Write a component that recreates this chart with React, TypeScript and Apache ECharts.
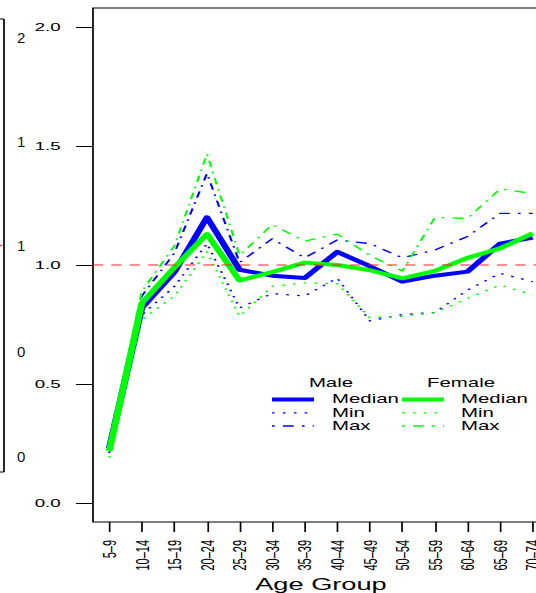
import React, { useEffect, useRef } from "react";
import * as echarts from "echarts";

// Age groups on the x axis
const ageGroups = [
  "5–9", "10–14", "15–19", "20–24", "25–29", "30–34", "35–39",
  "40–44", "45–49", "50–54", "55–59", "60–64", "65–69", "70–74",
];

// Ratio values per age group
const maleMedian = [0.23, 0.82, 0.97, 1.2, 0.98, 0.955, 0.945, 1.055, 0.995, 0.93, 0.955, 0.972, 1.09, 1.115];
const maleMin = [0.21, 0.79, 0.91, 1.09, 0.82, 0.88, 0.87, 0.945, 0.765, 0.792, 0.8, 0.895, 0.965, 0.93];
const maleMax = [0.25, 0.87, 1.05, 1.385, 1.01, 1.11, 1.03, 1.105, 1.09, 1.03, 1.063, 1.12, 1.217, 1.217];
const femaleMedian = [0.22, 0.84, 0.99, 1.13, 0.935, 0.97, 1.01, 1.0, 0.978, 0.944, 0.975, 1.03, 1.07, 1.133];
const femaleMin = [0.19, 0.77, 0.87, 1.055, 0.785, 0.91, 0.925, 0.922, 0.778, 0.785, 0.8, 0.86, 0.916, 0.874];
const femaleMax = [0.24, 0.89, 1.08, 1.466, 1.04, 1.17, 1.1, 1.13, 1.04, 0.975, 1.2, 1.196, 1.32, 1.3];

// Reference level drawn as a dashed line
const referenceLevel = 1.0;

// Y axis scale
const yMin = 0;
const yMax = 2;
const yStep = 0.5;

// Left neighbour panel tick fragments
const neighbourTicks = ["2", "1", "1", "0", "0"];

const STRETCH = 1.7;
const W = 330;
const H = 593;
const FONT = "'Liberation Sans', Arial, Helvetica, sans-serif";
const BLUE = "#0000ff";
const GREEN = "#00ff00";
const RED = "#ff2020";
const DOTTED = [1.6, 4.8];
const DOTDASH = [1.6, 4.8, 6.4, 4.8];

const plotLeft = 54.7;
const plotWidth = 268.2;

function lineSeries(name: string, data: number[], color: string, width: number, type: any, z: number) {
  return {
    type: "line",
    name,
    data,
    xAxisIndex: 0,
    yAxisIndex: 0,
    symbol: "none",
    showSymbol: false,
    silent: true,
    z,
    lineStyle: { color, width, type, cap: "butt", join: "round" },
    itemStyle: { color },
    emphasis: { disabled: true },
  };
}

export default function App() {
  const ref = useRef<HTMLDivElement>(null);

  useEffect(() => {
    if (!ref.current) return;
    const chart = echarts.init(ref.current, null, { renderer: "svg" });
    const inv = 1 / STRETCH;

    const textStyle = { fill: "#000", font: `12px ${FONT}` };

    // legend block: two columns, each with a header and three line samples
    const legendRows = [
      { label: "Median", y: 399.5, width: 4, dash: null as any },
      { label: "Min", y: 412.8, width: 1.3, dash: DOTTED },
      { label: "Max", y: 426, width: 1.3, dash: DOTDASH },
    ];
    const legendCols = [
      { title: "Male", color: BLUE, titleX: 194.7, x1: 160, x2: 184.7, textX: 195.3 },
      { title: "Female", color: GREEN, titleX: 271.2, x1: 236.5, x2: 261.2, textX: 271.2 },
    ];
    const legendEls: any[] = [];
    legendCols.forEach((c) => {
      legendEls.push({
        type: "text",
        x: c.titleX,
        y: 382.8,
        style: { ...textStyle, text: c.title, textAlign: "center", textVerticalAlign: "middle" },
      });
      legendRows.forEach((r) => {
        legendEls.push({
          type: "line",
          shape: { x1: c.x1, y1: r.y, x2: c.x2, y2: r.y },
          style: { stroke: c.color, lineWidth: r.width, lineDash: r.dash || undefined },
        });
        legendEls.push({
          type: "text",
          x: c.textX,
          y: r.y,
          style: { ...textStyle, text: r.label, textAlign: "left", textVerticalAlign: "middle" },
        });
      });
    });

    // fragment of the neighbouring panel on the far left
    const neighbourY = [37.5, 141, 245.5, 351.5, 456];
    const neighbourEls: any[] = [
      { type: "line", shape: { x1: 2.35, y1: 19, x2: 2.35, y2: 472 }, style: { stroke: "#000", lineWidth: 1 } },
      { type: "line", shape: { x1: -1, y1: 19, x2: 2.35, y2: 19 }, style: { stroke: "#000", lineWidth: 1 } },
      { type: "line", shape: { x1: -1, y1: 472, x2: 2.35, y2: 472 }, style: { stroke: "#000", lineWidth: 1 } },
      { type: "line", shape: { x1: -1, y1: 245.5, x2: 1.2, y2: 245.5 }, style: { stroke: RED, lineWidth: 1.2 } },
      ...neighbourTicks.map((t, i) => ({
        type: "text",
        x: 10,
        y: neighbourY[i],
        scaleX: inv,
        style: { text: t, fill: "#111", font: `15px ${FONT}`, textAlign: "left", textVerticalAlign: "middle" },
      })),
    ];

    const option: any = {
      animation: false,
      backgroundColor: "#fff",
      grid: [
        { left: plotLeft, top: 27, width: plotWidth, height: 476, show: false },
        { left: plotLeft, top: 8, width: plotWidth, height: 514, show: true, borderColor: "#000", borderWidth: 1, backgroundColor: "transparent" },
      ],
      xAxis: [
        {
          type: "category",
          gridIndex: 0,
          data: ageGroups,
          boundaryGap: true,
          axisLine: { show: false, onZero: false },
          axisTick: { show: false },
          axisLabel: { show: false },
          splitLine: { show: false },
        },
        {
          type: "category",
          gridIndex: 1,
          data: ageGroups,
          boundaryGap: true,
          position: "bottom",
          axisLine: { show: false, onZero: false },
          axisTick: { show: true, alignWithLabel: true, length: 10, lineStyle: { color: "#000", width: 1 } },
          axisLabel: {
            show: true,
            interval: 0,
            rotate: 90,
            margin: 18,
            color: "#000",
            fontFamily: FONT,
            fontSize: 11,
          },
          splitLine: { show: false },
        },
      ],
      yAxis: [
        {
          type: "value",
          gridIndex: 0,
          min: yMin,
          max: yMax,
          interval: yStep,
          axisLine: { show: false, onZero: false },
          axisTick: { show: true, length: 10, lineStyle: { color: "#000", width: 1 } },
          axisLabel: {
            show: true,
            margin: 19,
            color: "#000",
            fontFamily: FONT,
            fontSize: 11,
            formatter: (v: number) => v.toFixed(1),
          },
          splitLine: { show: false },
        },
        {
          type: "value",
          gridIndex: 1,
          min: yMin - 0.08,
          max: yMax + 0.08,
          show: false,
          axisLine: { onZero: false },
          splitLine: { show: false },
        },
      ],
      series: [
        lineSeries("Male Median", maleMedian, BLUE, 4, "solid", 3),
        lineSeries("Male Min", maleMin, BLUE, 1.3, DOTTED, 3),
        lineSeries("Male Max", maleMax, BLUE, 1.3, DOTDASH, 3),
        lineSeries("Female Median", femaleMedian, GREEN, 4, "solid", 4),
        lineSeries("Female Min", femaleMin, GREEN, 1.3, DOTTED, 4),
        lineSeries("Female Max", femaleMax, GREEN, 1.3, DOTDASH, 4),
      ],
      graphic: [
        ...legendEls,
        ...neighbourEls,
        {
          type: "text",
          x: plotLeft + plotWidth / 2,
          y: 584.5,
          style: { text: "Age Group", fill: "#000", font: `16px ${FONT}`, textAlign: "center", textVerticalAlign: "middle" },
        },
      ],
    };

    chart.setOption(option);

    // dashed reference line, placed through the y axis scale
    const refY = chart.convertToPixel({ yAxisIndex: 0 }, referenceLevel) as number;
    chart.setOption({
      graphic: [
        ...option.graphic,
        {
          type: "line",
          z: 100,
          silent: true,
          shape: { x1: plotLeft, y1: refY, x2: plotLeft + plotWidth, y2: refY },
          style: { stroke: RED, lineWidth: 1.2, lineDash: [6, 4.8] },
        },
      ],
    }, { replaceMerge: ["graphic"] });

    return () => chart.dispose();
  }, []);

  return (
    <div
      style={{
        position: "fixed",
        left: 0,
        top: 0,
        width: 536,
        height: 593,
        overflow: "hidden",
        background: "#fff",
      }}
    >
      <div
        ref={ref}
        style={{ width: W, height: H, transform: `scaleX(${STRETCH})`, transformOrigin: "0 0" }}
      />
    </div>
  );
}
